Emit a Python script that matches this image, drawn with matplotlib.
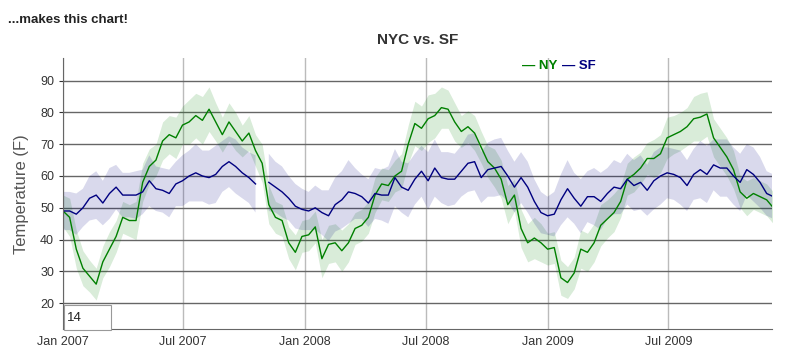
import matplotlib
matplotlib.use("Agg")
import matplotlib.pyplot as plt
import matplotlib.dates as mdates
import matplotlib.patches as patches
import numpy as np
import pandas as pd

plt.rcParams['font.family'] = ['Liberation Sans', 'DejaVu Sans']

# promedios moviles (14 dias) leidos cada 10 dias desde el 1 ene 2007
fechas = pd.date_range('2007-01-01', periods=108, freq='10D')

ny = [49, 47, 37, 31, 28.5, 26, 33, 37, 41, 47,
      46, 46, 58, 63, 65, 71, 73, 72, 76, 77,
      79, 77.5, 81, 77, 73, 77, 74, 71, 73.5, 68,
      64, 51, 47, 46, 39, 36, 41, 41.5, 44, 34,
      38.5, 39, 36.5, 39, 43.5, 44.5, 47, 54, 57.5, 57,
      60, 61.5, 70, 76.5, 75, 78, 79, 81.5, 81, 77,
      74, 75.5, 73.5, 69, 64.5, 62.5, 59, 51, 54, 43.5,
      39, 40.5, 39, 37, 37.5, 28, 26.5, 29.5, 37, 36,
      39, 44.5, 46.5, 48.5, 52, 59, 60.5, 62.5, 65.5, 65.5,
      67, 72, 73, 74, 75.5, 78, 78.5, 79.5, 72, 69,
      66, 62, 55, 53, 54.5, 53.5, 52.5, 50]

ny_err = [5, 6, 6, 5.5, 5, 5, 5, 5.5, 5, 5,
          5, 6, 6, 5.5, 5, 6, 6, 6.5, 6, 7,
          7, 7.5, 7, 6, 5.5, 6, 6, 5, 5.5, 5,
          6, 6, 5, 5, 5, 5.5, 5, 5, 5, 6,
          6, 6, 6.5, 6, 5, 5, 5, 5.5, 5, 5,
          5, 5.5, 6, 7, 7, 7.5, 7, 6.5, 6, 6,
          5, 5, 5.5, 5, 5, 6, 6, 6, 5, 6,
          6, 6.5, 6, 5, 5, 5.5, 5, 5, 6, 6,
          6, 6.5, 6, 6, 5, 5, 5.5, 5, 5, 6,
          6, 6.5, 6, 6, 6, 7, 7.5, 7, 6, 6,
          6, 6, 5, 5.5, 5, 5, 5, 5]

sf = [49, 49, 48, 50, 53, 54, 51.5, 54.5, 56.5, 54,
      54, 54, 55, 58.5, 56, 55.5, 54.5, 57.5, 58.5, 60,
      61, 60, 59.5, 60.5, 63, 64.5, 63, 61, 59.5, 57.5,
      np.nan, 58, 56.5, 55, 53, 50.5, 49.5, 49, 50, 48.5,
      47.5, 51, 52.5, 55, 54.5, 53.5, 51.5, 54.5, 54, 54,
      59.5, 56.5, 55.5, 59, 61.5, 58.5, 62.5, 59.5, 59, 59,
      61.5, 64, 64.5, 59.5, 62, 62.5, 63, 60, 56.5, 59.5,
      56.5, 52, 48.5, 47.5, 48, 52.5, 56, 53, 50.5, 53.5,
      53.5, 52, 54.5, 56.5, 56, 59, 57, 58, 55.5, 58.5,
      60, 61, 60.5, 59.5, 57, 60.5, 62, 60.5, 63.5, 62.5,
      62.5, 60, 58, 62, 60.5, 58, 54.5, 53.5]

sf_err = [6, 6, 6.5, 6, 7, 7.5, 7, 8, 7, 7,
          7, 7.5, 7, 8, 7, 7, 7.5, 7, 8, 8,
          9, 8, 8.5, 9, 8, 8, 8.5, 8, 8, 9,
          np.nan, 9, 8, 8, 7, 7, 6.5, 6, 7, 7,
          8, 8.5, 9, 10, 8, 7, 7.5, 8, 8, 9,
          9, 8, 8.5, 8, 8, 9, 9, 8, 8.5, 8,
          8, 9, 9, 8, 8.5, 9, 9, 8, 8, 8,
          8, 7, 6.5, 6, 7, 8, 9, 8, 8.5, 8,
          9, 9, 8, 8.5, 8, 8, 8, 8.5, 8, 9,
          9, 8, 8, 8.5, 8, 8, 9, 9, 8, 9,
          9, 9, 9, 8, 8.5, 8, 7, 7]

verde = '#008000'
azul = '#000080'

fig = plt.figure(figsize=(8.05, 3.51), dpi=100)
ax = fig.add_axes([63 / 805, 1 - 329.3 / 351, 709 / 805, 271.3 / 351])

ny_a = np.array(ny)
ny_e = np.array(ny_err)
sf_a = np.array(sf)
sf_e = np.array(sf_err)

ax.fill_between(fechas, ny_a - ny_e, ny_a + ny_e, color=verde, alpha=0.15, lw=0)
ax.fill_between(fechas, sf_a - sf_e, sf_a + sf_e, color=azul, alpha=0.15, lw=0)
ax.plot(fechas, ny_a, color=verde, lw=1)
ax.plot(fechas, sf_a, color=azul, lw=1)

ax.set_xlim(pd.Timestamp('2007-01-01'), pd.Timestamp('2009-12-04'))
ax.set_ylim(11.8, 97.1)
ax.set_yticks(range(20, 100, 10))
ax.xaxis.set_major_locator(mdates.MonthLocator(bymonth=[1, 7]))
ax.xaxis.set_major_formatter(mdates.DateFormatter('%b %Y'))

ax.yaxis.grid(True, color='#666666', lw=1)
ax.xaxis.grid(True, color='#bbbbbb', lw=1)
ax.set_axisbelow(True)
for s in ['top', 'right']:
    ax.spines[s].set_visible(False)
ax.spines['left'].set_color('#666666')
ax.spines['bottom'].set_color('#666666')
ax.tick_params(axis='both', labelsize=9, colors='#333333', length=3)
ax.tick_params(axis='x', length=0, pad=5)

ax.set_ylabel('Temperature (F)', fontsize=12, color='#555555', labelpad=8)

fig.text(418 / 805, 1 - 40 / 351, 'NYC vs. SF', ha='center', va='center',
         fontsize=11, fontweight='bold', color='#333333')
fig.text(8 / 805, 1 - 20 / 351, '...makes this chart!', ha='left', va='center',
         fontsize=9.5, fontweight='bold', color='#222222')
fig.text(522 / 805, 1 - 66 / 351, '— NY', ha='left', va='center',
         fontsize=9.5, fontweight='bold', color=verde)
fig.text(562 / 805, 1 - 66 / 351, '— SF', ha='left', va='center',
         fontsize=9.5, fontweight='bold', color=azul)

# cajita del periodo de promedio
caja = patches.Rectangle((64 / 805, 1 - 330 / 351), 47 / 805, 25 / 351,
                         transform=fig.transFigure, facecolor='white',
                         edgecolor='#999999', lw=0.8)
fig.patches.append(caja)
fig.text(67 / 805, 1 - 318 / 351, '14', ha='left', va='center', fontsize=9.5, color='#222222')

fig.savefig('out.png', dpi=100)
